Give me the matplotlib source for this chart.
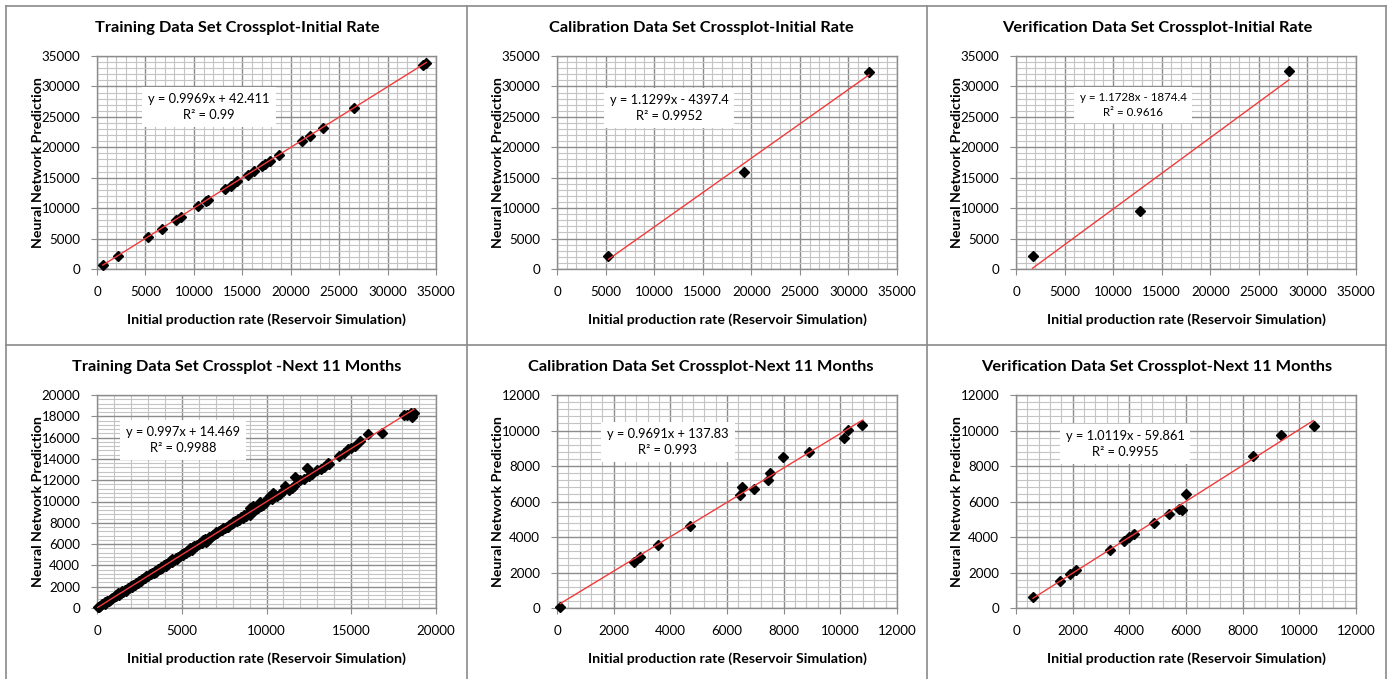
import matplotlib
matplotlib.use("Agg")
import matplotlib.pyplot as plt
from matplotlib.lines import Line2D
from matplotlib.ticker import MultipleLocator

plt.rcParams['font.family'] = ['Lato', 'DejaVu Sans']

W, H = 1392, 679

# ---- data ----
# Training, initial rate
x1 = [600, 2200, 5300, 6700, 8200, 8700, 10400, 11300, 11500, 13200,
      13800, 14500, 15600, 16200, 17000, 17300, 17900, 18800, 21200, 22000,
      23300, 26500, 33700, 34000]
y1 = [600, 2100, 5200, 6600, 8100, 8600, 10400, 11200, 11400, 13100,
      13700, 14500, 15500, 16100, 16900, 17200, 17800, 18700, 21100, 21900,
      23200, 26500, 33600, 33800]

# Calibration, initial rate
x2 = [5300, 19200, 32100]
y2 = [2100, 15900, 32400]

# Verification, initial rate
x3 = [1700, 12800, 28100]
y3 = [2100, 9500, 32500]

# Training, next 11 months
x4 = [50, 100, 150, 300, 450, 500, 600, 700, 750, 850,
      900, 1000, 1100, 1150, 1250, 1300, 1400, 1500, 1550, 1650,
      1700, 1800, 1900, 2000, 2050, 2150, 2250, 2300, 2400, 2500,
      2600, 2650, 2750, 2850, 2900, 3000, 3100, 3200, 3250, 3350,
      3450, 3500, 3600, 3700, 3800, 3850, 3950, 4050, 4100, 4200,
      4300, 4400, 4450, 4550, 4650, 4700, 4800, 4900, 5000, 5050,
      5150, 5250, 5300, 5400, 5500, 5600, 5650, 5750, 5850, 5900,
      6000, 6100, 6200, 6250, 6350, 6450, 6500, 6600, 6700, 6800,
      6850, 6950, 7050, 7100, 7200, 7300, 7400, 7450, 7550, 7650,
      7700, 7800, 7900, 8000, 8050, 8150, 8250, 8300, 8400, 8500,
      8600, 8700, 8800, 8900, 9000, 9050, 9100, 9200, 9300, 9400,
      9500, 9600, 9700, 9800, 9900, 10000, 10100, 10200, 10300, 10400,
      10500, 10600, 10800, 11000, 11100, 11300, 11500, 11600, 11700, 12000,
      12200, 12400, 12500, 12700, 13000, 13200, 13400, 13600, 13700, 14300,
      14600, 14800, 15000, 15200, 15500, 16000, 16800, 18100, 18300, 18500,
      18600, 18700]
y4 = [80, 60, 180, 350, 420, 560, 640, 680, 790, 860,
      960, 1010, 1080, 1250, 1420, 1250, 1380, 1560, 1490, 1700,
      1640, 1850, 1870, 2080, 1980, 2180, 2200, 2380, 2330, 2520,
      2540, 2700, 2780, 2830, 2980, 2960, 3180, 3150, 3320, 3300,
      3480, 3420, 3650, 3620, 3850, 3760, 4020, 3980, 4100, 4160,
      4380, 4300, 4560, 4480, 4700, 4620, 4800, 4880, 5050, 4930,
      5200, 5150, 5380, 5350, 5600, 5480, 5750, 5820, 5780, 5950,
      5980, 6150, 6080, 6380, 6500, 6200, 6300, 6650, 6680, 6760,
      6900, 6920, 7100, 7000, 7250, 7300, 7320, 7500, 7480, 7650,
      7600, 7820, 7850, 8060, 7950, 8200, 8180, 8380, 8300, 8550,
      8450, 8700, 8650, 8900, 8700, 9400, 9000, 9550, 9200, 9250,
      9350, 9980, 9550, 9700, 9850, 10100, 10350, 10500, 10250, 10800,
      10600, 10550, 10750, 11000, 11450, 11100, 11300, 11450, 12300, 12000,
      12150, 13150, 12400, 12600, 13000, 13050, 13200, 13650, 13500, 14250,
      14600, 14900, 15000, 15200, 15650, 16300, 16450, 18150, 18100, 18300,
      17950, 18350]

# Calibration, next 11 months
x5 = [120, 2700, 2940, 3560, 4700, 6470, 6530, 6960, 7430, 7500,
      7980, 8890, 10120, 10270, 10780]
y5 = [60, 2570, 2890, 3550, 4640, 6340, 6830, 6700, 7210, 7590,
      8510, 8810, 9550, 10020, 10300]

# Verification, next 11 months
x6 = [600, 1560, 1890, 2120, 3300, 3820, 4000, 4180, 4860, 5390,
      5760, 5850, 6000, 8380, 9350, 10500]
y6 = [600, 1530, 1940, 2130, 3280, 3750, 3980, 4170, 4810, 5300,
      5590, 5510, 6430, 8550, 9770, 10280]

titles = ["Training Data Set Crossplot-Initial Rate",
          "Calibration Data Set Crossplot-Initial Rate",
          "Verification Data Set Crossplot-Initial Rate",
          "Training Data Set Crossplot -Next 11 Months",
          "Calibration Data Set Crossplot-Next 11 Months",
          "Verification Data Set Crossplot-Next 11 Months"]
slopes = [0.9969, 1.1299, 1.1728, 0.997, 0.9691, 1.0119]
intercepts = [42.411, -4397.4, -1874.4, 14.469, 137.83, -59.861]
eq_texts = ["y = 0.9969x + 42.411\nR² = 0.99",
            "y = 1.1299x - 4397.4\nR² = 0.9952",
            "y = 1.1728x - 1874.4\nR² = 0.9616",
            "y = 0.997x + 14.469\nR² = 0.9988",
            "y = 0.9691x + 137.83\nR² = 0.993",
            "y = 1.0119x - 59.861\nR² = 0.9955"]
xs = [x1, x2, x3, x4, x5, x6]
ys = [y1, y2, y3, y4, y5, y6]
xmax = [35000, 35000, 35000, 20000, 12000, 12000]
ymax = [35000, 35000, 35000, 20000, 12000, 12000]
xmajor = [5000, 5000, 5000, 5000, 2000, 2000]
ymajor = [5000, 5000, 5000, 2000, 2000, 2000]

# ---- layout in pixels ----
lefts = [97, 557, 1016, 97, 557, 1016]
rights = [436, 897, 1356, 436, 897, 1356]
tops = [56, 56, 56, 395, 395, 395]
bottoms = [269, 269, 269, 608, 608, 608]
title_x = [237, 701, 1157, 237, 701, 1157]
title_y = [28, 28, 28, 367, 367, 367]
eq_x = [209, 669, 1133, 183, 668, 1125]
eq_y = [107, 108, 105, 440, 442, 444]
eq_size = [9.3, 9.3, 8.3, 9.3, 9.3, 9.3]

major_c = "#8c8c8c"
minor_c = "#c4c4c4"

fig = plt.figure(figsize=(W / 100, H / 100), dpi=100)

for i in range(6):
    l, r, t, b = lefts[i], rights[i], tops[i], bottoms[i]
    ax = fig.add_axes([l / W, 1 - b / H, (r - l) / W, (b - t) / H])
    ax.set_xlim(0, xmax[i])
    ax.set_ylim(0, ymax[i])
    ax.xaxis.set_major_locator(MultipleLocator(xmajor[i]))
    ax.yaxis.set_major_locator(MultipleLocator(ymajor[i]))
    ax.xaxis.set_minor_locator(MultipleLocator(xmajor[i] / 5))
    ax.yaxis.set_minor_locator(MultipleLocator(ymajor[i] / 5))
    ax.grid(which="major", color=major_c, linewidth=1.0)
    ax.grid(which="minor", color=minor_c, linewidth=0.8)
    ax.set_axisbelow(True)
    ax.tick_params(which="minor", length=0)
    ax.tick_params(which="major", direction="out", length=4, color=major_c,
                   labelsize=9.6, pad=8)
    for s in ax.spines.values():
        s.set_color(major_c)
        s.set_linewidth(1.0)

    ax.plot(xs[i], ys[i], linestyle="none", marker="D", markersize=4.8,
            color="black", zorder=3, clip_on=False)
    x0, x1e = min(xs[i]), max(xs[i])
    ax.plot([x0, x1e], [slopes[i] * x0 + intercepts[i], slopes[i] * x1e + intercepts[i]],
            color="#f23a3a", linewidth=1.0, zorder=4)

    ax.set_xlabel("Initial production rate (Reservoir Simulation)",
                  fontsize=10.2, fontweight="bold", labelpad=11)
    ax.set_ylabel("Neural Network Prediction", fontsize=10.2,
                  fontweight="bold", labelpad=-2)

    fig.text(title_x[i] / W, 1 - title_y[i] / H, titles[i], fontsize=11.8,
             fontweight="bold", ha="center", va="center")
    fig.text(eq_x[i] / W, 1 - eq_y[i] / H, eq_texts[i], fontsize=eq_size[i],
             ha="center", va="center", linespacing=1.45,
             bbox=dict(boxstyle="square,pad=0.45", facecolor="white",
                       edgecolor="none"))

# panel frame lines
frame = [((6, 6), (1386, 6)), ((6, 6), (6, 679)), ((927, 6), (927, 679)),
         ((467, 6), (467, 679)), ((6, 345), (1386, 345)), ((1386, 6), (1386, 679))]
for (xa, ya), (xb, yb) in frame:
    fig.add_artist(Line2D([xa / W, xb / W], [1 - ya / H, 1 - yb / H],
                          color="#8a8a8a", linewidth=1.2))

fig.savefig("out.png", dpi=100)
